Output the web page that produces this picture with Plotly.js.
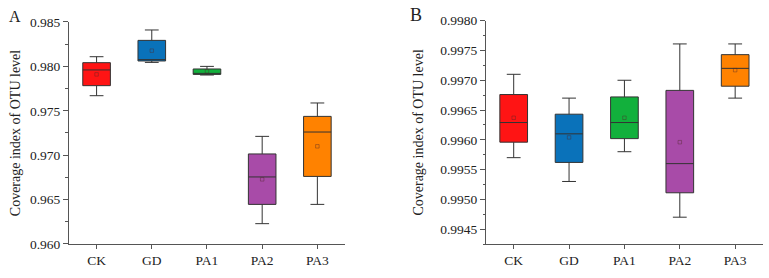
<!DOCTYPE html>
<html><head><meta charset="utf-8">
<script src="https://cdn.plot.ly/plotly-3.0.1.min.js"></script>
<style>html,body{margin:0;padding:0;background:#fff}#chart{width:769px;height:278px}</style>
</head><body><div id="chart"></div>
<script>
var categories = ['CK','GD','PA1','PA2','PA3'];
var colors = ['#FF1414','#0A72BA','#12B03C','#A84BA8','#FF8200'];

// Panel A
var aUpper  = [0.98109,0.98410,0.98000,0.97212,0.97588];
var aQ3     = [0.98042,0.98293,0.97971,0.97014,0.97437];
var aMedian = [0.97960,0.98076,0.97921,0.96755,0.97261];
var aQ1     = [0.97783,0.98061,0.97910,0.96446,0.96761];
var aLower  = [0.97670,0.98045,0.97903,0.96229,0.96446];
var aMean   = [0.97910,0.98177,0.97944,0.96728,0.97100];
var aTicks  = [0.960,0.965,0.970,0.975,0.980,0.985];

// Panel B
var bUpper  = [0.99710,0.99670,0.99700,0.99761,0.99761];
var bQ3     = [0.99676,0.99643,0.99672,0.99683,0.99743];
var bMedian = [0.99629,0.99610,0.99629,0.99560,0.99720];
var bQ1     = [0.99596,0.99562,0.99602,0.99511,0.99690];
var bLower  = [0.99570,0.99530,0.99580,0.99470,0.99670];
var bMean   = [0.99637,0.99604,0.99637,0.99596,0.99717];
var bTicks  = [0.9945,0.9950,0.9955,0.9960,0.9965,0.9970,0.9975,0.9980];

var traces = [];
function addPanel(up,q3,med,q1,lo,mean,xa,ya){
  for (var i=0;i<categories.length;i++){
    traces.push({type:'box', x:[categories[i]], q1:[q1[i]], median:[med[i]], q3:[q3[i]],
      lowerfence:[lo[i]], upperfence:[up[i]], xaxis:xa, yaxis:ya,
      fillcolor:colors[i], line:{color:'#333333',width:1}, width:0.5, whiskerwidth:0.5,
      boxpoints:false, hoverinfo:'skip', showlegend:false});
  }
  traces.push({type:'scatter', mode:'markers', x:categories, y:mean, xaxis:xa, yaxis:ya,
    marker:{symbol:'square-open', size:3.5, color:'rgba(80,40,40,0.5)', line:{width:0.8}},
    showlegend:false, hoverinfo:'skip'});
}
addPanel(aUpper,aQ3,aMedian,aQ1,aLower,aMean,'x','y');
addPanel(bUpper,bQ3,bMedian,bQ1,bLower,bMean,'x2','y2');

var fam = 'Liberation Serif, Times New Roman, serif';
var font = {family:fam, size:12.5, color:'#222'};
function xax(dom,anchor){return {domain:dom, anchor:anchor, type:'category', categoryorder:'array',
  categoryarray:categories, range:[-0.5,4.5], showline:true, linecolor:'#555', linewidth:1,
  ticks:'outside', ticklen:4, tickcolor:'#555', showgrid:false, zeroline:false,
  tickfont:{family:fam,size:13.5,color:'#222'}};}
function yax(dom,anchor,range,ticks,fmt,minorStep,standoff){return {domain:dom, anchor:anchor, range:range,
  tickvals:ticks, tickformat:fmt, showline:true, linecolor:'#555', linewidth:1,
  ticks:'outside', ticklen:5, tickcolor:'#555', showgrid:false, zeroline:false,
  minor:{dtick:minorStep, ticks:'outside', ticklen:2.5, tickcolor:'#555', showgrid:false},
  tickfont:{family:fam,size:13.5,color:'#222'},
  title:{text:'Coverage index of OTU level', font:{family:fam,size:14,color:'#222'}, standoff:standoff}};}

var layout = {
  width:769, height:278, margin:{l:0,r:0,t:0,b:0}, paper_bgcolor:'#fff', plot_bgcolor:'#fff',
  font:font, boxmode:'overlay',
  xaxis: xax([0.0897,0.4486],'y'),
  yaxis: yax([0.1223,0.9209],'x',[0.960,0.985],aTicks,'.3f',0.0025,5),
  xaxis2: xax([0.632,0.992],'y2'),
  yaxis2: yax([0.1223,0.9255],'x2',[0.99425,0.9980],bTicks,'.4f',0.00025,13),
  annotations:[
    {text:'A', xref:'paper', yref:'paper', x:15/769, y:1-17/278, xanchor:'center', yanchor:'middle', showarrow:false,
     font:{family:fam,size:16,color:'#222'}},
    {text:'B', xref:'paper', yref:'paper', x:416/769, y:1-15/278, xanchor:'center', yanchor:'middle', showarrow:false,
     font:{family:fam,size:18,color:'#222'}}
  ]
};
Plotly.newPlot('chart', traces, layout, {staticPlot:true, displayModeBar:false});
</script></body></html>
